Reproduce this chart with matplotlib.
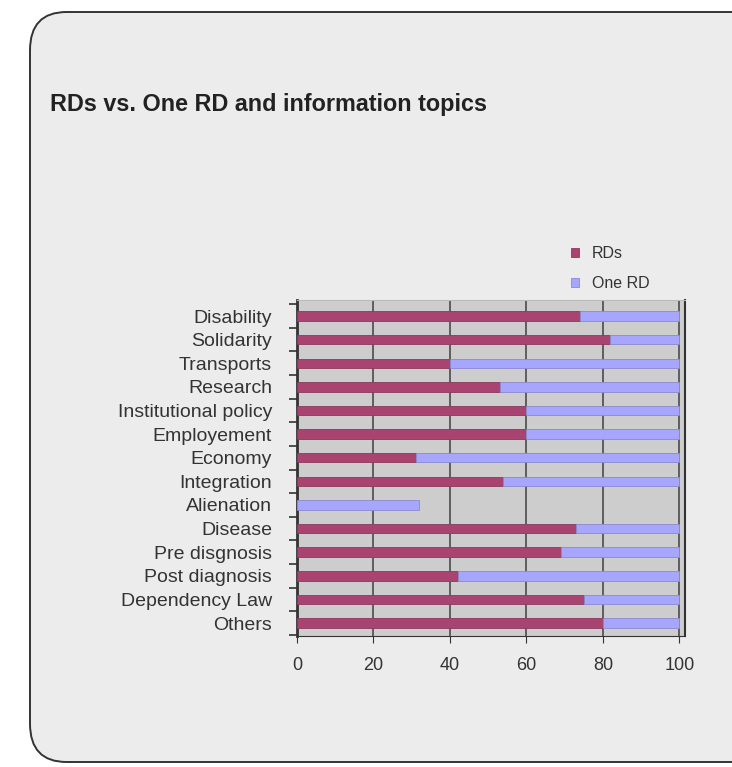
import numpy as np
import matplotlib
matplotlib.use("Agg")
import matplotlib.pyplot as plt
from matplotlib.patches import FancyBboxPatch

plt.rcParams['font.family'] = ['Liberation Sans', 'DejaVu Sans']

# data (percent of answers per topic)
topics = ['Disability', 'Solidarity', 'Transports', 'Research', 'Institutional policy',
          'Employement', 'Economy', 'Integration', 'Alienation', 'Disease',
          'Pre disgnosis', 'Post diagnosis', 'Dependency Law', 'Others']
rds = [74, 82, 40, 53, 60, 60, 31, 54, 0, 73, 69, 42, 75, 80]
one_rd = [26, 18, 60, 47, 40, 40, 69, 46, 32, 27, 31, 58, 25, 20]
x_ticks = [0, 20, 40, 60, 80, 100]

c_rds = '#a8446f'
c_one = '#a6a6ff'

fig = plt.figure(figsize=(7.32, 7.67), dpi=100)
fig.patch.set_facecolor('white')

# rounded panel behind the chart
panel = FancyBboxPatch((30 / 732, 5 / 767), 760 / 732, 750 / 767,
                       boxstyle='round,pad=0,rounding_size=0.05',
                       transform=fig.transFigure, facecolor='#ececec',
                       edgecolor='#333333', linewidth=1.4, zorder=-5)
fig.patches.append(panel)

fig.text(50 / 732, 1 - 105 / 767, 'RDs vs. One RD and information topics',
         fontsize=16.8, fontweight='bold', color='#222222', va='center', ha='left')

ax = fig.add_axes([297 / 732, 1 - 636 / 767, 388 / 732, 336 / 767])
ax.set_zorder(2)
ax.set_facecolor('#cdcdcd')

y = np.arange(len(topics))
ax.barh(y, rds, height=0.4, color=c_rds, edgecolor='#8a3a60', linewidth=0.6,
        label='RDs', zorder=3)
ax.barh(y, one_rd, left=rds, height=0.4, color=c_one, edgecolor='#8a8acc',
        linewidth=0.6, label='One RD', zorder=3)

ax.set_xlim(0, 101.5)
ax.set_ylim(len(topics) - 0.45, -0.68)
ax.set_xticks(x_ticks)
ax.set_xticklabels([str(v) for v in x_ticks], fontsize=13, color='#333333')
ax.tick_params(axis='x', length=5, pad=10, color='#333333')
ax.xaxis.grid(True, color='#555555', linewidth=1.3, zorder=1)

ax.set_yticks(y)
ax.set_yticklabels(topics, fontsize=14, color='#333333')
ax.tick_params(axis='y', length=0, pad=18)
# minor ticks between rows on the left spine
ax.set_yticks(np.arange(-0.5, len(topics), 1), minor=True)
ax.tick_params(axis='y', which='minor', length=6, color='#333333', width=1.2)

for side in ['top', 'right', 'left', 'bottom']:
    ax.spines[side].set_color('#333333')
ax.spines['left'].set_linewidth(2.0)
ax.spines['top'].set_color('#bbbbbb')
ax.spines['right'].set_linewidth(1.5)

leg = fig.legend(loc='upper left', bbox_to_anchor=(557 / 732, 1 - 232 / 767),
                 frameon=False, fontsize=11.5, handlelength=0.5, handleheight=0.5,
                 handletextpad=0.8, labelspacing=0.9, labelcolor='#333333')

fig.savefig('out.png', dpi=100, facecolor='white')
